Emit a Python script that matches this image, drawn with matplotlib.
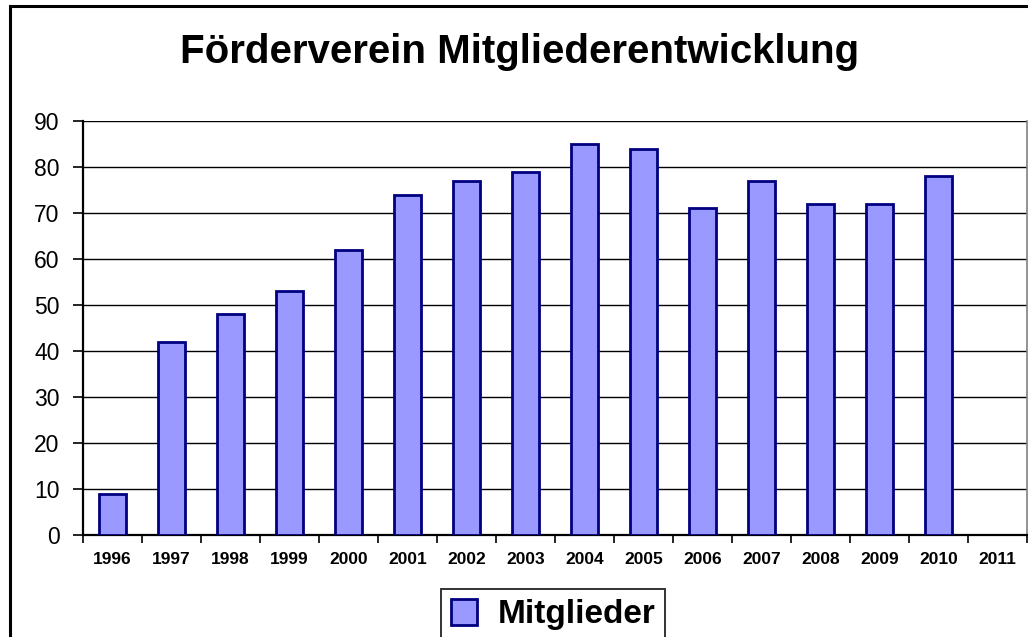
import matplotlib
matplotlib.use("Agg")
import matplotlib.pyplot as plt
from matplotlib.patches import Rectangle

years = ['1996', '1997', '1998', '1999', '2000', '2001', '2002', '2003',
         '2004', '2005', '2006', '2007', '2008', '2009', '2010', '2011']
mitglieder = [9, 42, 48, 53, 62, 74, 77, 79, 85, 84, 71, 77, 72, 72, 78, 0]

plt.rcParams['font.family'] = ['Liberation Sans', 'DejaVu Sans']

fig = plt.figure(figsize=(10.28, 6.37), dpi=100)
ax = fig.add_axes([83/1028, 1-535/637, (1027-83)/1028, (535-121)/637])

# outer chart frame (cut off on the right and bottom like the original)
fig.patches.append(Rectangle((10/1028, -0.1), 1.2, 1-6/637+0.1, transform=fig.transFigure,
                             fill=False, edgecolor='black', linewidth=2.2, zorder=0))

x = list(range(len(years)))
bars = ax.bar(x, mitglieder, width=0.46, color='#9999FF', edgecolor='#000080',
              linewidth=2.0, label='Mitglieder', zorder=3)
for b, v in zip(bars, mitglieder):
    if v == 0:
        b.set_visible(False)

ax.set_xlim(-0.5, len(years) - 0.5)
ax.set_ylim(0, 90)
ax.set_yticks(range(0, 91, 10))
ax.yaxis.grid(True, color='black', linewidth=1.0, zorder=0)
ax.set_axisbelow(True)

ax.set_xticks(x)
ax.set_xticklabels(years, fontsize=12.5, fontweight='bold')
ax.tick_params(axis='x', length=0, pad=12)
ax.set_xticks([i - 0.5 for i in range(len(years) + 1)], minor=True)
ax.tick_params(axis='x', which='minor', length=6, width=1.2, direction='out')
ax.tick_params(axis='y', labelsize=16.5, length=7, width=1.2, direction='out', pad=10)

for s in ['left', 'bottom']:
    ax.spines[s].set_linewidth(1.6)
ax.spines['top'].set_visible(False)
ax.spines['right'].set_color('#808080')
ax.spines['right'].set_linewidth(1.2)

fig.text(0.505, 1-52/637, 'Förderverein Mitgliederentwicklung', ha='center', va='center',
         fontsize=29, fontweight='bold')

leg = fig.legend(loc='upper center', bbox_to_anchor=(553/1028, 1-589/637),
                 prop={'size': 24, 'weight': 'bold'}, frameon=True, fancybox=False,
                 edgecolor='black', handlelength=0.8, handleheight=0.8,
                 handletextpad=0.6, borderpad=0.3, borderaxespad=0)
leg.get_frame().set_linewidth(1.4)

fig.savefig('out.png', dpi=100)
